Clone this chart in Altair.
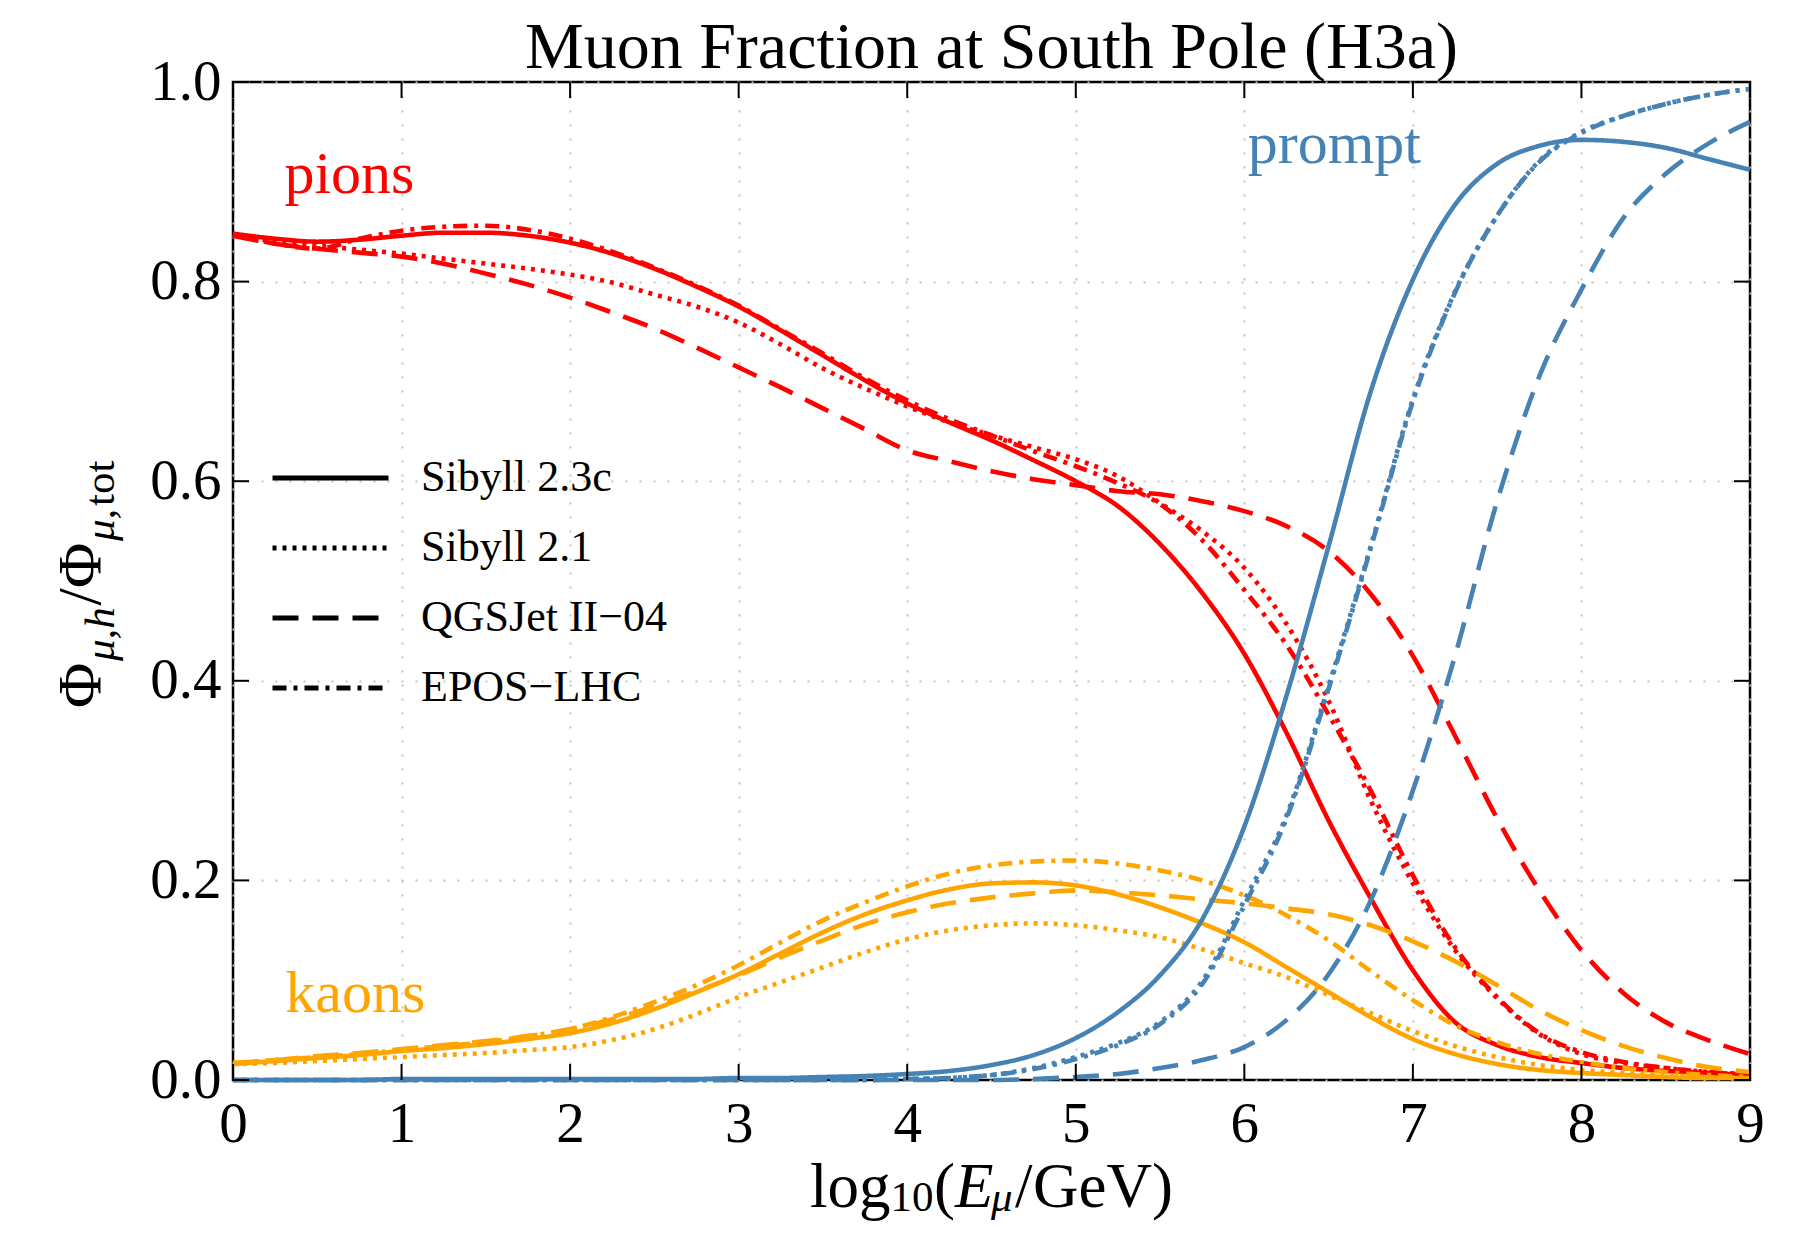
import altair as alt
import pandas as pd

# ---------------- data ----------------
E_LOG10 = [0.0, 0.25, 0.5, 0.75, 1.0, 1.25, 1.5, 1.75, 2.0, 2.25, 2.5, 2.75, 3.0,
           3.25, 3.5, 3.75, 4.0, 4.25, 4.5, 4.75, 5.0, 5.25, 5.5, 5.75, 6.0, 6.25,
           6.5, 6.75, 7.0, 7.25, 7.5, 7.75, 8.0, 8.25, 8.5, 8.75, 9.0]

MODELS = ["Sibyll 2.3c", "Sibyll 2.1", "QGSJet II\u221204", "EPOS\u2212LHC"]
COMPONENTS = ["pions", "kaons", "prompt"]
COMPONENT_COLORS = ["#ff0000", "#ffa500", "#4682b4"]

PIONS_SIB23C = [0.848, 0.843, 0.840, 0.842, 0.846, 0.849, 0.849, 0.846, 0.839, 0.828, 0.813, 0.795, 0.775,
                0.751, 0.726, 0.701, 0.678, 0.659, 0.641, 0.621, 0.600, 0.575, 0.537, 0.488, 0.427, 0.348,
                0.260, 0.182, 0.110, 0.058, 0.035, 0.023, 0.017, 0.012, 0.009, 0.007, 0.005]
PIONS_SIB21 = [0.847, 0.840, 0.836, 0.832, 0.828, 0.823, 0.818, 0.813, 0.807, 0.799, 0.787, 0.775, 0.759,
               0.737, 0.713, 0.693, 0.675, 0.659, 0.646, 0.634, 0.622, 0.605, 0.578, 0.550, 0.513, 0.457,
               0.380, 0.280, 0.197, 0.130, 0.082, 0.046, 0.026, 0.017, 0.012, 0.008, 0.005]
PIONS_QGS = [0.846, 0.838, 0.833, 0.829, 0.825, 0.818, 0.808, 0.797, 0.784, 0.769, 0.753, 0.734, 0.714,
             0.694, 0.673, 0.652, 0.631, 0.620, 0.610, 0.602, 0.596, 0.590, 0.587, 0.580, 0.570, 0.555,
             0.530, 0.487, 0.425, 0.345, 0.262, 0.190, 0.130, 0.087, 0.058, 0.040, 0.026]
PIONS_EPOS = [0.848, 0.838, 0.833, 0.843, 0.851, 0.855, 0.856, 0.852, 0.843, 0.830, 0.814, 0.796, 0.776,
              0.752, 0.728, 0.703, 0.681, 0.662, 0.646, 0.630, 0.615, 0.598, 0.577, 0.541, 0.491, 0.436,
              0.366, 0.290, 0.205, 0.133, 0.083, 0.047, 0.028, 0.018, 0.012, 0.008, 0.006]

KAONS_SIB23C = [0.016, 0.019, 0.022, 0.025, 0.029, 0.032, 0.036, 0.041, 0.047, 0.057, 0.071, 0.088, 0.106,
                0.127, 0.148, 0.166, 0.180, 0.191, 0.197, 0.198, 0.195, 0.186, 0.173, 0.157, 0.138, 0.113,
                0.088, 0.063, 0.041, 0.026, 0.016, 0.010, 0.007, 0.005, 0.003, 0.002, 0.002]
KAONS_SIB21 = [0.016, 0.017, 0.019, 0.021, 0.023, 0.025, 0.027, 0.030, 0.033, 0.040, 0.051, 0.066, 0.083,
               0.098, 0.113, 0.128, 0.141, 0.150, 0.155, 0.157, 0.155, 0.150, 0.143, 0.131, 0.117, 0.103,
               0.085, 0.067, 0.049, 0.034, 0.023, 0.015, 0.010, 0.007, 0.005, 0.003, 0.002]
KAONS_QGS = [0.017, 0.020, 0.024, 0.027, 0.031, 0.035, 0.039, 0.044, 0.051, 0.061, 0.074, 0.089, 0.105,
             0.123, 0.140, 0.156, 0.168, 0.177, 0.183, 0.187, 0.190, 0.188, 0.185, 0.181, 0.177, 0.172,
             0.166, 0.155, 0.139, 0.119, 0.095, 0.070, 0.050, 0.034, 0.022, 0.013, 0.008]
KAONS_EPOS = [0.017, 0.020, 0.023, 0.026, 0.030, 0.034, 0.038, 0.044, 0.051, 0.063, 0.078, 0.095, 0.115,
              0.138, 0.160, 0.178, 0.194, 0.207, 0.215, 0.219, 0.220, 0.217, 0.210, 0.200, 0.185, 0.165,
              0.140, 0.109, 0.080, 0.055, 0.038, 0.026, 0.018, 0.012, 0.008, 0.005, 0.003]

PROMPT_SIB23C = [0.000, 0.000, 0.000, 0.000, 0.001, 0.001, 0.001, 0.001, 0.001, 0.001, 0.001, 0.001, 0.002,
                 0.002, 0.003, 0.004, 0.006, 0.009, 0.015, 0.025, 0.042, 0.068, 0.105, 0.161, 0.254, 0.385,
                 0.535, 0.690, 0.802, 0.877, 0.918, 0.936, 0.942, 0.940, 0.934, 0.923, 0.912]
PROMPT_SIB21 = [0.000, 0.000, 0.000, 0.000, 0.000, 0.000, 0.000, 0.000, 0.000, 0.000, 0.000, 0.000, 0.000,
                0.000, 0.000, 0.000, 0.001, 0.002, 0.005, 0.012, 0.023, 0.037, 0.058, 0.099, 0.180, 0.265,
                0.395, 0.535, 0.682, 0.790, 0.866, 0.921, 0.950, 0.966, 0.978, 0.987, 0.993]
PROMPT_QGS = [0.000, 0.000, 0.000, 0.000, 0.000, 0.000, 0.000, 0.000, 0.000, 0.000, 0.000, 0.000, 0.000,
              0.000, 0.000, 0.000, 0.000, 0.000, 0.000, 0.001, 0.003, 0.006, 0.012, 0.020, 0.033, 0.060,
              0.106, 0.180, 0.290, 0.425, 0.580, 0.705, 0.792, 0.864, 0.908, 0.938, 0.960]
PROMPT_EPOS = [0.000, 0.000, 0.000, 0.000, 0.000, 0.000, 0.000, 0.000, 0.000, 0.000, 0.000, 0.000, 0.000,
               0.000, 0.000, 0.000, 0.001, 0.002, 0.005, 0.011, 0.021, 0.035, 0.056, 0.096, 0.175, 0.262,
               0.392, 0.533, 0.680, 0.789, 0.866, 0.920, 0.949, 0.966, 0.978, 0.987, 0.993]

SERIES = [
    ("pions", MODELS[0], PIONS_SIB23C), ("pions", MODELS[1], PIONS_SIB21),
    ("pions", MODELS[2], PIONS_QGS), ("pions", MODELS[3], PIONS_EPOS),
    ("kaons", MODELS[0], KAONS_SIB23C), ("kaons", MODELS[1], KAONS_SIB21),
    ("kaons", MODELS[2], KAONS_QGS), ("kaons", MODELS[3], KAONS_EPOS),
    ("prompt", MODELS[0], PROMPT_SIB23C), ("prompt", MODELS[1], PROMPT_SIB21),
    ("prompt", MODELS[2], PROMPT_QGS), ("prompt", MODELS[3], PROMPT_EPOS),
]

LABEL_TEXT = ["pions", "kaons", "prompt"]
LABEL_E = [0.305, 0.31, 6.02]
LABEL_FRAC = [0.889, 0.068, 0.919]

X_TICKS = [0, 1, 2, 3, 4, 5, 6, 7, 8, 9]
Y_TICKS = [0.0, 0.2, 0.4, 0.6, 0.8, 1.0]

TITLE = "Muon Fraction at South Pole (H3a)"

# ---------------- build tables ----------------
rows = []
for comp, model, vals in SERIES:
    for e, v in zip(E_LOG10, vals):
        rows.append({"E": e, "frac": v, "comp": comp, "model": model})
df = pd.DataFrame(rows)

ann = pd.DataFrame({"E": LABEL_E, "frac": LABEL_FRAC, "comp": LABEL_TEXT, "txt": LABEL_TEXT})

# ---------------- styling ----------------
FONT = "Liberation Serif"
W, H = 1517, 998
TICK = 16
DASHES = [[1, 0], [4, 6], [26, 14], [14, 7, 4, 7]]

x_scale = alt.Scale(domain=[0, 9], nice=False, zero=False)
y_scale = alt.Scale(domain=[0, 1], nice=False, zero=False)
color_scale = alt.Scale(domain=COMPONENTS, range=COMPONENT_COLORS)

x_axis = alt.Axis(values=X_TICKS, format="d", title=None, labelPadding=16,
                  labelFlush=False, labelOverlap=False)
y_axis = alt.Axis(values=Y_TICKS, format=".1f", title=None, labelPadding=12,
                  labelFlush=False, labelOverlap=False)

X = lambda f: alt.X(f, scale=x_scale, axis=x_axis)
Y = lambda f: alt.Y(f, scale=y_scale, axis=y_axis)

lines = alt.Chart(df).mark_line(strokeWidth=4.6, interpolate="monotone").encode(
    x=X("E:Q"),
    y=Y("frac:Q"),
    color=alt.Color("comp:N", scale=color_scale, legend=None),
    strokeDash=alt.StrokeDash(
        "model:N", scale=alt.Scale(domain=MODELS, range=DASHES),
        legend=alt.Legend(title=None, orient="none", legendX=37, legendY=361,
                          symbolType="stroke", symbolSize=13456, symbolStrokeWidth=5,
                          symbolStrokeColor="black", labelFont=FONT, labelFontSize=44,
                          labelColor="black", labelOffset=30, rowPadding=0,
                          clipHeight=70, padding=0, labelLimit=0)),
)

labels = alt.Chart(ann).mark_text(font=FONT, fontSize=60, align="left",
                                   baseline="alphabetic").encode(
    x=X("E:Q"),
    y=Y("frac:Q"),
    text="txt:N",
    color=alt.Color("comp:N", scale=color_scale, legend=None),
)

xt = pd.DataFrame({"E": X_TICKS})
yt = pd.DataFrame({"frac": Y_TICKS})
tick_style = dict(color="black", strokeWidth=2)
ticks = [
    alt.Chart(xt).mark_rule(**tick_style).encode(
        x=X("E:Q"), y=alt.value(H), y2=alt.value(H - TICK)),
    alt.Chart(xt).mark_rule(**tick_style).encode(
        x=X("E:Q"), y=alt.value(0), y2=alt.value(TICK)),
    alt.Chart(yt).mark_rule(**tick_style).encode(
        y=Y("frac:Q"), x=alt.value(0), x2=alt.value(TICK)),
    alt.Chart(yt).mark_rule(**tick_style).encode(
        y=Y("frac:Q"), x=alt.value(W), x2=alt.value(W - TICK)),
]


def piece(txt, x, y, size, italic=False, angle=None, align="left"):
    kw = dict(font=FONT, fontSize=size, align=align, baseline="alphabetic", color="black")
    if italic:
        kw["fontStyle"] = "italic"
    if angle is not None:
        kw["angle"] = angle
    return alt.Chart(pd.DataFrame({"s": [txt]})).mark_text(**kw).encode(
        text="s:N", x=alt.value(x), y=alt.value(y))


# chart title
title = [piece(TITLE, W / 2, -14, 66, align="center")]

# x-axis title: log10(E_mu / GeV)
XB, XS, XMU = 1125, 1129, 1129
x_title = [
    piece("log", 577.0, XB, 63),
    piece("10", 657.5, XS, 43),
    piece("(", 701.0, XB, 63),
    piece("E", 722.0, XB, 63, italic=True),
    piece("\u03bc", 758.0, XMU, 43, italic=True),
    piece("/", 782.0, XB, 63),
    piece("GeV", 800.0, XB, 63),
    piece(")", 919.0, XB, 63),
]

# y-axis title: Phi_{mu,h} / Phi_{mu,tot} (rotated, reading upward)
YM, YS = -133, -119
y_title = [
    piece("\u03a6", YM, 626.0, 62, angle=270),
    piece("\u03bc,h", YS, 579.0, 43, italic=True, angle=270),
    piece("/", YM, 523.6, 62, angle=270),
    piece("\u03a6", YM, 506.0, 62, angle=270),
    piece("\u03bc,", YS, 459.0, 43, italic=True, angle=270),
    piece("tot", YS, 424.0, 43, angle=270),
]

chart = alt.layer(lines, labels, *ticks, *title, *x_title, *y_title).properties(
    width=W, height=H,
    autosize=alt.AutoSizeParams(type="none"),
    padding={"left": 225, "top": 74, "right": 40, "bottom": 143},
).configure_view(
    stroke="black", strokeWidth=2.5
).configure_axis(
    labelFont=FONT, labelFontSize=57, labelColor="black",
    ticks=False, tickSize=0, domain=False,
    grid=True, gridColor="#c4c4c4", gridDash=[2, 12], gridWidth=2,
)

chart.save("out.html", embed_options={"renderer": "svg", "actions": False})
